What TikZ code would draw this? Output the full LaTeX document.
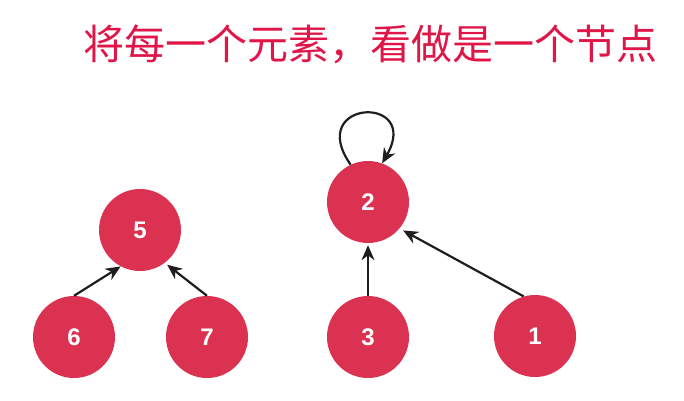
\documentclass[tikz,border=0pt]{standalone}
\usepackage{fontspec}
\setmainfont{Liberation Sans}
\newfontfamily\cjk{Noto Sans CJK SC}
\usetikzlibrary{arrows.meta}
\definecolor{nodered}{RGB}{220,50,82}
\definecolor{titlered}{RGB}{224,22,72}
\definecolor{arrowgray}{RGB}{30,30,30}
\tikzset{
  elem/.style={circle, fill=nodered, draw=none, minimum size=82pt, inner sep=0pt,
    text=white, font=\fontsize{24}{24}\selectfont\bfseries},
  arr/.style={draw=arrowgray, line width=2.2pt, -{Stealth[length=15pt,width=13pt]}},
}
\begin{document}
\begin{tikzpicture}[x=1pt,y=-1pt]
\useasboundingbox (0,0) rectangle (684,400);
\node[text=titlered, font=\cjk\fontsize{41}{41}\selectfont] (title) at (370,44) {将每一个元素，看做是一个节点};
\node[elem] (n5) at (140,230) {5};
\node[elem] (n6) at (74,337) {6};
\node[elem] (n7) at (207,337) {7};
\node[elem] (n2) at (368,202) {2};
\node[elem] (n3) at (368,337) {3};
\node[elem] (n1) at (535,336) {1};
\draw[arr] (n6.north) -- (n5.-118);
\draw[arr, shorten >=3pt] (n7.north) -- (n5.-53);
\draw[arr, shorten >=2pt] (n3.north) -- (n2.south);
\draw[arr, shorten >=4pt] (n1.106) -- (n2.-40);
\draw[arr] (n2.115) .. controls +(125:80pt) and +(60:80pt) .. (n2.70);
\end{tikzpicture}
\end{document}
